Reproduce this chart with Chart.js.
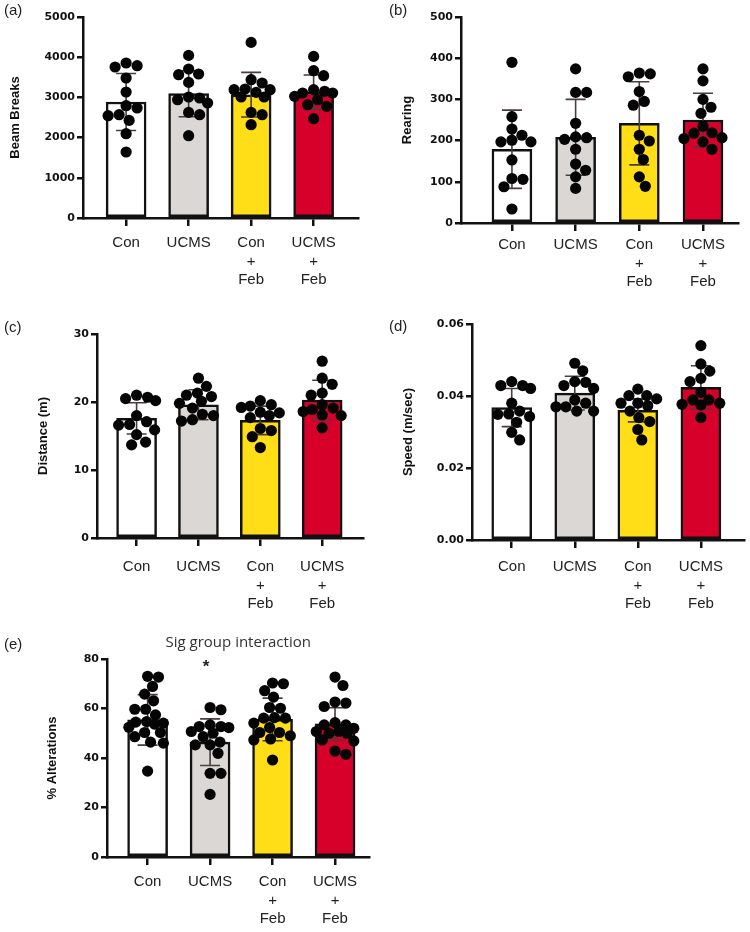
<!DOCTYPE html>
<html>
<head>
<meta charset="utf-8">
<script src="https://cdn.jsdelivr.net/npm/chart.js@4.4.0/dist/chart.umd.min.js"></script>
<style>
    body { margin: 0; background: #fff; }
    #fig { position: relative; width: 750px; height: 932px; overflow: hidden; }
    #fig canvas { position: absolute; }
    .tag { position: absolute; font: 15px "Liberation Sans", Arial, sans-serif; line-height: 18px; color: #222; }
</style>
</head>
<body>
<div id="fig">
    <canvas id="cA"></canvas>
    <canvas id="cB"></canvas>
    <canvas id="cC"></canvas>
    <canvas id="cD"></canvas>
    <canvas id="cE"></canvas>
    <div class="tag" style="left:4px;top:1px">(a)</div>
    <div class="tag" style="left:389px;top:1px">(b)</div>
    <div class="tag" style="left:4px;top:318px">(c)</div>
    <div class="tag" style="left:389px;top:317px">(d)</div>
    <div class="tag" style="left:4px;top:635px">(e)</div>
</div>
<script>
// ========== DATA ==========
const groupLabels = [['Con'], ['UCMS'], ['Con', '+', 'Feb'], ['UCMS', '+', 'Feb']];

// (a) beam breaks
const beamTicks = [0, 1000, 2000, 3000, 4000, 5000];
const beamMean = [2886, 3092, 3067, 3134];
const beamSD = [710, 572, 556, 425];
const beamCon = [3756, 3789, 3856, 3483, 3134, 2794, 2736, 2570, 2545, 2428, 2097, 1642];
const beamUcms = [4045, 3706, 3565, 3582, 3373, 3010, 2985, 2943, 2861, 2627, 2570, 2047];
const beamConFeb = [4368, 3440, 3358, 3192, 3192, 3125, 3209, 3010, 3010, 2627, 2570, 2321];
const beamUcmsFeb = [4020, 3665, 3540, 3192, 3151, 3109, 3109, 3026, 2943, 2777, 2818, 2470];

// (b) rearing
const rearTicks = [0, 100, 200, 300, 400, 500];
const rearMean = [179, 208, 242, 250];
const rearSD = [95, 92, 101, 65];
const rearCon = [390, 258, 228, 213, 197, 197, 201, 153, 106, 108, 88, 34];
const rearUcms = [374, 317, 317, 242, 209, 203, 207, 179, 143, 128, 112, 84];
const rearConFeb = [364, 355, 362, 319, 295, 286, 213, 199, 179, 154, 112, 89];
const rearUcmsFeb = [374, 345, 300, 281, 266, 235, 219, 218, 205, 207, 197, 179];

// (c) distance
const distTicks = [0, 10, 20, 30];
const distMean = [17.6, 19.6, 17.3, 20.3];
const distSD = [2.3, 2.2, 2.1, 2.9];
const distCon = [20.2, 20.5, 20.7, 21.0, 18.0, 16.6, 16.7, 17.1, 15.9, 15.2, 13.7, 14.1];
const distUcms = [23.5, 22.3, 21.0, 20.8, 21.3, 20.1, 19.8, 19.1, 18.2, 18.0, 17.4, 17.2];
const distConFeb = [19.4, 19.6, 19.2, 20.2, 18.4, 18.0, 17.7, 18.5, 16.1, 15.8, 14.9, 13.3];
const distUcmsFeb = [26.0, 23.5, 22.6, 21.3, 21.0, 19.6, 19.1, 18.9, 18.6, 18.1, 18.0, 16.2];

// (d) speed
const speedTicks = [0, 0.02, 0.04, 0.06];
const speedMean = [0.0368, 0.0408, 0.0360, 0.0424];
const speedSD = [0.0053, 0.0047, 0.0032, 0.0060];
const speedCon = [0.0440, 0.0421, 0.0429, 0.0429, 0.0380, 0.0358, 0.0349, 0.0343, 0.0327, 0.0299, 0.0278, 0.0350];
const speedUcms = [0.0491, 0.0470, 0.0438, 0.0440, 0.0421, 0.0429, 0.0389, 0.0380, 0.0370, 0.0370, 0.0358, 0.0358];
const speedConFeb = [0.0380, 0.0392, 0.0401, 0.0401, 0.0419, 0.0380, 0.0373, 0.0358, 0.0340, 0.0329, 0.0307, 0.0278];
const speedUcmsFeb = [0.0540, 0.0489, 0.0469, 0.0449, 0.0440, 0.0410, 0.0389, 0.0377, 0.0380, 0.0389, 0.0340, 0.0375];

// (e) alternations
const altTicks = [0, 20, 40, 60, 80];
const altMean = [55.4, 46.4, 55.6, 53.8];
const altSD = [10.2, 9.4, 8.6, 6.5];
const altCon = [72.7, 73.0, 68.9, 65.8, 63.1, 59.7, 59.7, 57.4, 54.5, 54.7, 54.1, 53.7, 52.4, 50.3, 50.3, 48.6, 46.0, 46.4, 34.7];
const altUcms = [59.5, 60.4, 52.7, 52.7, 53.4, 52.3, 50.7, 50.0, 48.6, 46.4, 45.3, 45.3, 41.9, 33.8, 33.8, 25.3];
const altConFeb = [70.3, 70.0, 67.2, 64.6, 60.1, 60.4, 56.1, 56.3, 56.1, 54.1, 52.3, 50.3, 50.3, 49.0, 47.7, 47.3, 39.2];
const altUcmsFeb = [72.7, 69.3, 62.6, 62.2, 60.8, 54.3, 53.4, 53.4, 52.0, 50.7, 50.0, 50.0, 50.7, 47.3, 46.9, 42.8, 41.5];
const altSigGroups = [1];

// ========== STYLE ==========
const barFills = ['#ffffff', '#dbd7d4', '#ffdd17', '#d6002a'];
const INK = '#111';
const SANS = '"Liberation Sans", Arial, sans-serif';

// ========== HELPERS ==========
// beeswarm kept inside +-maxOff px; when crowded, take the least overlapping spot
function swarm(values, pxPerX, pxPerY, diam, maxOff) {
    const placed = [];
    const out = new Array(values.length);
    const order = values.map((v, i) => i).sort((a, b) => values[b] - values[a]);
    const cands = [0];
    for (let k = 1; k <= maxOff; k++) cands.push(k, -k);
    order.forEach(i => {
        const yp = values[i] * pxPerY;
        let best = 0, bestGap = -1;
        for (const c of cands) {
            const gap = placed.reduce((m, p) => Math.min(m, Math.hypot(p.x - c, p.y - yp)), Infinity);
            if (gap >= diam) { best = c; break; }
            if (gap > bestGap + 0.5) { bestGap = gap; best = c; }
        }
        placed.push({ x: best, y: yp });
        out[i] = best / pxPerX;
    });
    return out;
}

const errorBars = {
    id: 'errorBars',
    afterDatasetDraw(chart, args, opts) {
        const ds = chart.data.datasets[args.index];
        if (!ds.errors) return;
        const { ctx, scales: { x, y } } = chart;
        ctx.save();
        ctx.strokeStyle = '#4b3d3d';
        ctx.lineWidth = 1.6;
        ds.data.forEach((p, i) => {
            const px = x.getPixelForValue(p.x);
            const top = y.getPixelForValue(p.y + ds.errors[i]);
            const bot = y.getPixelForValue(p.y - ds.errors[i]);
            ctx.beginPath();
            ctx.moveTo(px, top); ctx.lineTo(px, bot);
            ctx.moveTo(px - 10, top); ctx.lineTo(px + 10, top);
            ctx.moveTo(px - 10, bot); ctx.lineTo(px + 10, bot);
            ctx.stroke();
        });
        (opts.sig || []).forEach(g => {
            ctx.fillStyle = '#222';
            ctx.font = 'bold 17px ' + SANS;
            ctx.textAlign = 'center';
            ctx.textBaseline = 'middle';
            ctx.fillText('*', x.getPixelForValue(g) - 4, chart.chartArea.top + 8);
        });
        ctx.restore();
    }
};

// ========== PANELS ==========
function makePanel(cfg) {
    const canvas = document.getElementById(cfg.id);
    canvas.width = cfg.w;
    canvas.height = cfg.h;
    canvas.style.left = cfg.left + 'px';
    canvas.style.top = cfg.top + 'px';

    const ymin = cfg.ticks[0];
    const ymax = cfg.ticks[cfg.ticks.length - 1];
    const pxPerX = (cfg.areaRight - cfg.axisX) / (cfg.xmax - cfg.xmin);
    const pxPerY = (cfg.areaBottom - cfg.areaTop) / (ymax - ymin);

    const dots = [];
    cfg.groups.forEach((vals, g) => {
        const offs = swarm(vals, pxPerX, pxPerY, 11, 19);
        vals.forEach((v, i) => dots.push({ x: g + offs[i], y: v }));
    });

    const hasTitle = !!cfg.title;

    return new Chart(canvas, {
        type: 'bar',
        data: {
            datasets: [
                {
                    type: 'bar',
                    data: cfg.means.map((m, i) => ({ x: i, y: m })),
                    errors: cfg.sd,
                    backgroundColor: barFills,
                    borderColor: INK,
                    borderWidth: 2.5,
                    borderSkipped: false,
                    barThickness: 40,
                    order: 2
                },
                {
                    type: 'scatter',
                    data: dots,
                    pointRadius: 5.6,
                    pointBackgroundColor: '#050505',
                    pointBorderWidth: 0,
                    order: 1
                }
            ]
        },
        options: {
            responsive: false,
            animation: false,
            layout: { padding: { left: 0, right: cfg.w - cfg.areaRight, top: hasTitle ? 19 : cfg.areaTop, bottom: 0 } },
            plugins: {
                legend: { display: false },
                tooltip: { enabled: false },
                title: {
                    display: hasTitle,
                    text: cfg.title,
                    fullSize: false,
                    color: '#333',
                    font: { family: '"Open Sans", sans-serif', size: 15, weight: 'normal' },
                    padding: { top: 0, bottom: cfg.areaTop - 19 - 18 }
                },
                errorBars: { sig: cfg.sig }
            },
            scales: {
                x: {
                    type: 'linear',
                    offset: false,
                    min: cfg.xmin,
                    max: cfg.xmax,
                    afterBuildTicks: s => { s.ticks = groupLabels.map((_, i) => ({ value: i })); },
                    afterFit: s => { s.height = cfg.h - cfg.areaBottom; },
                    ticks: {
                        autoSkip: false,
                        maxRotation: 0,
                        padding: cfg.labelPad,
                        color: '#222',
                        font: { family: SANS, size: 15, lineHeight: 1.22 },
                        callback: v => groupLabels[v]
                    },
                    grid: { offset: false, drawOnChartArea: false, tickLength: 8, lineWidth: 2.5, color: INK },
                    border: { color: INK, width: 2.5 }
                },
                y: {
                    min: ymin,
                    max: ymax,
                    afterBuildTicks: s => { s.ticks = cfg.ticks.map(v => ({ value: v })); },
                    afterFit: s => { s.width = cfg.axisX; },
                    ticks: {
                        padding: 2,
                        color: INK,
                        font: { family: '"DejaVu Sans", sans-serif', size: 11, weight: 'bold' },
                        callback: v => cfg.fmt ? cfg.fmt(v) : String(v)
                    },
                    grid: { drawOnChartArea: false, tickLength: 6, lineWidth: 2.5, color: INK },
                    border: { color: INK, width: 2.5 },
                    title: {
                        display: true,
                        text: cfg.yTitle,
                        color: INK,
                        font: { family: SANS, size: 13, weight: 'bold' },
                        padding: { top: cfg.titleX - 7.8, bottom: 0 }
                    }
                }
            }
        },
        plugins: [errorBars]
    });
}

makePanel({
    id: 'cA', left: 0, top: 0, w: 375, h: 300,
    axisX: 83, areaRight: 358, areaTop: 17, areaBottom: 218,
    xmin: -0.69, xmax: 3.71, titleX: 15, labelPad: 8,
    yTitle: 'Beam Breaks', ticks: beamTicks, means: beamMean, sd: beamSD,
    groups: [beamCon, beamUcms, beamConFeb, beamUcmsFeb]
});

makePanel({
    id: 'cB', left: 375, top: 0, w: 375, h: 300,
    axisX: 86, areaRight: 363, areaTop: 17, areaBottom: 223,
    xmin: -0.80, xmax: 3.55, titleX: 32, labelPad: 5,
    yTitle: 'Rearing', ticks: rearTicks, means: rearMean, sd: rearSD,
    groups: [rearCon, rearUcms, rearConFeb, rearUcmsFeb]
});

makePanel({
    id: 'cC', left: 0, top: 300, w: 375, h: 315,
    axisX: 97, areaRight: 363, areaTop: 34, areaBottom: 238,
    xmin: -0.64, xmax: 3.66, titleX: 43, labelPad: 12,
    yTitle: 'Distance (m)', ticks: distTicks, means: distMean, sd: distSD,
    groups: [distCon, distUcms, distConFeb, distUcmsFeb]
});

makePanel({
    id: 'cD', left: 375, top: 300, w: 375, h: 315,
    axisX: 97, areaRight: 372, areaTop: 24, areaBottom: 240,
    xmin: -0.63, xmax: 3.69, titleX: 33, labelPad: 10,
    yTitle: 'Speed (m/sec)', ticks: speedTicks, means: speedMean, sd: speedSD,
    fmt: v => v.toFixed(2),
    groups: [speedCon, speedUcms, speedConFeb, speedUcmsFeb]
});

makePanel({
    id: 'cE', left: 0, top: 615, w: 375, h: 317,
    axisX: 107, areaRight: 373, areaTop: 44, areaBottom: 242,
    xmin: -0.65, xmax: 3.55, titleX: 52, labelPad: 8,
    yTitle: '% Alterations', ticks: altTicks, means: altMean, sd: altSD,
    title: 'Sig group interaction', sig: altSigGroups,
    groups: [altCon, altUcms, altConFeb, altUcmsFeb]
});
</script>
</body>
</html>
